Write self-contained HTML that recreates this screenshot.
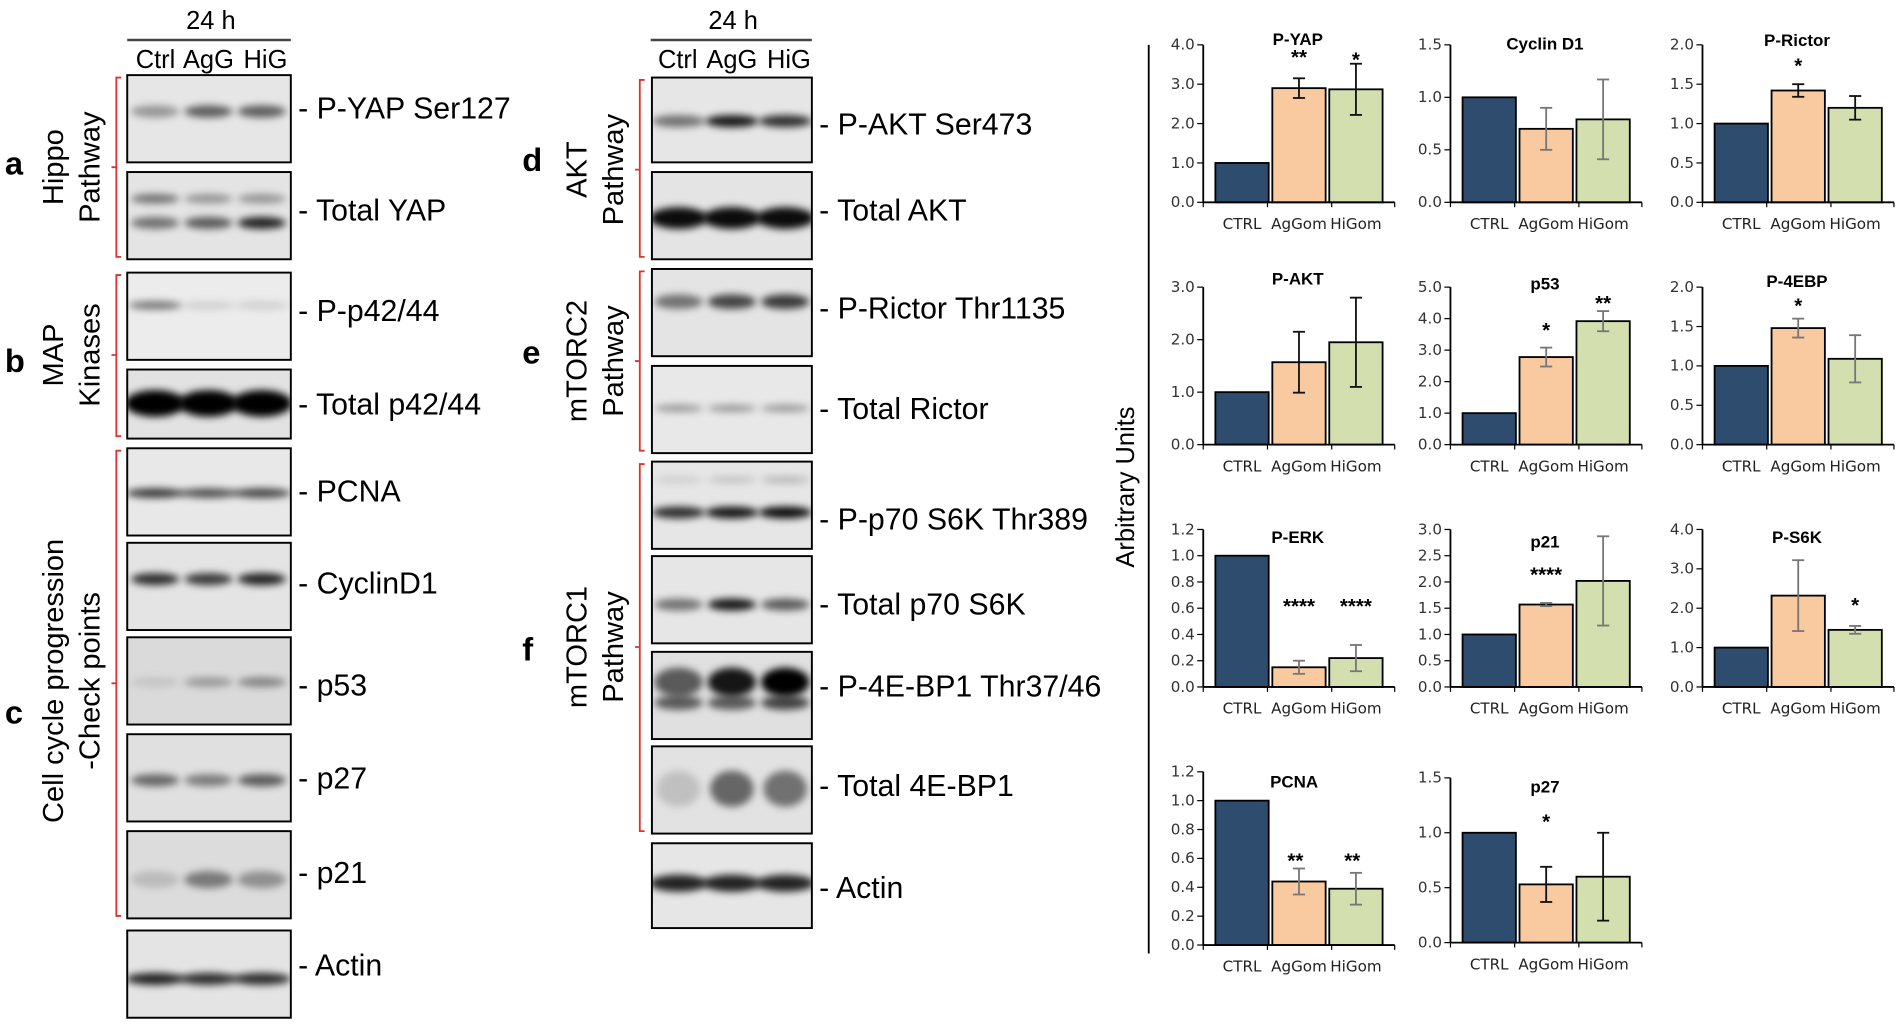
<!DOCTYPE html>
<html><head><meta charset="utf-8"><style>
html,body{margin:0;padding:0;background:#fff;width:1900px;height:1025px;overflow:hidden}
svg{display:block}
.l{font-family:"Liberation Sans",Arial,sans-serif;font-size:25px;fill:#000}
.h{font-family:"Liberation Sans",Arial,sans-serif;font-size:21px;fill:#000}
.r{font-family:"Liberation Sans",Arial,sans-serif;font-size:24px;fill:#000;text-anchor:middle}
.let{font-family:"Liberation Sans",Arial,sans-serif;font-size:27px;font-weight:bold;fill:#000}
.t{font-family:"DejaVu Sans",Verdana,sans-serif;font-size:12.5px;fill:#333;text-anchor:end}
.c{font-family:"DejaVu Sans",Verdana,sans-serif;font-size:12.5px;fill:#222;text-anchor:middle}
.ti{font-family:"Liberation Sans",Arial,sans-serif;font-size:14px;font-weight:bold;fill:#000;text-anchor:middle}
.s{font-family:"Liberation Sans",Arial,sans-serif;font-size:17px;font-weight:bold;fill:#000;text-anchor:middle}
</style></head><body>
<svg id="s" width="1900" height="1025" viewBox="0 0 1568 846" preserveAspectRatio="none">
<defs>
<filter id="b" x="-50%" y="-100%" width="200%" height="300%"><feGaussianBlur stdDeviation="3"/></filter>
</defs>
<g id="blots"></g>
<g id="charts"></g>

<text class="h" x="174" y="24" text-anchor="middle">24 h</text>
<line x1="105" y1="33" x2="240" y2="33" stroke="#444" stroke-width="2"/>
<text class="h" x="112" y="56">Ctrl</text><text class="h" x="151" y="56">AgG</text><text class="h" x="201" y="56">HiG</text>
<text class="h" x="605" y="24" text-anchor="middle">24 h</text>
<line x1="537" y1="33" x2="670" y2="33" stroke="#444" stroke-width="2"/>
<text class="h" x="543" y="56">Ctrl</text><text class="h" x="583" y="56">AgG</text><text class="h" x="633" y="56">HiG</text>

<text class="l" x="246" y="98">- P-YAP Ser127</text>
<text class="l" x="246" y="182">- Total YAP</text>
<text class="l" x="246" y="265">- P-p42/44</text>
<text class="l" x="246" y="342">- Total p42/44</text>
<text class="l" x="246" y="414">- PCNA</text>
<text class="l" x="246" y="490">- CyclinD1</text>
<text class="l" x="246" y="574">- p53</text>
<text class="l" x="246" y="651">- p27</text>
<text class="l" x="246" y="729">- p21</text>
<text class="l" x="246" y="805">- Actin</text>

<text class="l" x="676" y="111">- P-AKT Ser473</text>
<text class="l" x="676" y="182">- Total AKT</text>
<text class="l" x="676" y="263">- P-Rictor Thr1135</text>
<text class="l" x="676" y="346">- Total Rictor</text>
<text class="l" x="676" y="437">- P-p70 S6K Thr389</text>
<text class="l" x="676" y="507">- Total p70 S6K</text>
<text class="l" x="676" y="575">- P-4E-BP1 Thr37/46</text>
<text class="l" x="676" y="657">- Total 4E-BP1</text>
<text class="l" x="676" y="741">- Actin</text>

<g stroke="#d33" stroke-width="1.5" fill="none">
<path d="M100 64 H96 V212 H100 M96 138 H92"/>
<path d="M100 227 H96 V360 H100 M96 293 H92"/>
<path d="M100 372 H96 V756 H100 M96 564 H92"/>
<path d="M532 66 H528 V212 H532 M528 140 H524"/>
<path d="M532 224 H528 V372 H532 M528 298 H524"/>
<path d="M532 383 H528 V686 H532 M528 534 H524"/>
</g>

<g transform="translate(52,138) rotate(-90)"><text class="r" y="0">Hippo</text><text class="r" y="30">Pathway</text></g>
<g transform="translate(52,293) rotate(-90)"><text class="r" y="0">MAP</text><text class="r" y="30">Kinases</text></g>
<g transform="translate(52,562) rotate(-90)"><text class="r" y="0">Cell cycle progression</text><text class="r" y="30">-Check points</text></g>
<g transform="translate(484,140) rotate(-90)"><text class="r" y="0">AKT</text><text class="r" y="30">Pathway</text></g>
<g transform="translate(484,298) rotate(-90)"><text class="r" y="0">mTORC2</text><text class="r" y="30">Pathway</text></g>
<g transform="translate(484,534) rotate(-90)"><text class="r" y="0">mTORC1</text><text class="r" y="30">Pathway</text></g>

<text class="let" x="4" y="144">a</text>
<text class="let" x="4" y="307">b</text>
<text class="let" x="4" y="597">c</text>
<text class="let" x="431" y="141">d</text>
<text class="let" x="431" y="300">e</text>
<text class="let" x="431" y="545">f</text>

<line x1="948" y1="37" x2="948" y2="787" stroke="#000" stroke-width="1.5"/>
<g transform="translate(936,402) rotate(-90)"><text class="r" style="font-size:21px" y="0">Arbitrary Units</text></g>

<g>
<text class="ti" x="1071" y="37">P-YAP</text>
<text class="ti" x="1275" y="41">Cyclin D1</text>
<text class="ti" x="1483" y="38">P-Rictor</text>
<text class="ti" x="1071" y="235">P-AKT</text>
<text class="ti" x="1275" y="239">p53</text>
<text class="ti" x="1483" y="237">P-4EBP</text>
<text class="ti" x="1071" y="448">P-ERK</text>
<text class="ti" x="1275" y="452">p21</text>
<text class="ti" x="1483" y="448">P-S6K</text>
<text class="ti" x="1068" y="650">PCNA</text>
<text class="ti" x="1275" y="654">p27</text>
</g>
<g>
<text class="s" x="1072" y="53">**</text><text class="s" x="1119" y="55">*</text>
<text class="s" x="1484" y="60">*</text>
<text class="s" x="1276" y="278">*</text><text class="s" x="1323" y="256">**</text>
<text class="s" x="1484" y="258">*</text>
<text class="s" x="1072" y="506">****</text><text class="s" x="1119" y="506">****</text>
<text class="s" x="1276" y="480">****</text>
<text class="s" x="1531" y="505">*</text>
<text class="s" x="1069" y="716">**</text><text class="s" x="1116" y="716">**</text>
<text class="s" x="1276" y="684">*</text>
</g>
<g>
<text class="t" x="986" y="41">4.0</text><text class="t" x="986" y="73.5">3.0</text><text class="t" x="986" y="106">2.0</text><text class="t" x="986" y="138.5">1.0</text><text class="t" x="986" y="171">0.0</text>
<text class="t" x="1190" y="41">1.5</text><text class="t" x="1190" y="84.3">1.0</text><text class="t" x="1190" y="127.7">0.5</text><text class="t" x="1190" y="171">0.0</text>
<text class="t" x="1398" y="41">2.0</text><text class="t" x="1398" y="73.5">1.5</text><text class="t" x="1398" y="106">1.0</text><text class="t" x="1398" y="138.5">0.5</text><text class="t" x="1398" y="171">0.0</text>
<text class="t" x="986" y="241">3.0</text><text class="t" x="986" y="284.3">2.0</text><text class="t" x="986" y="327.7">1.0</text><text class="t" x="986" y="371">0.0</text>
<text class="t" x="1190" y="241">5.0</text><text class="t" x="1190" y="267">4.0</text><text class="t" x="1190" y="293">3.0</text><text class="t" x="1190" y="319">2.0</text><text class="t" x="1190" y="345">1.0</text><text class="t" x="1190" y="371">0.0</text>
<text class="t" x="1398" y="241">2.0</text><text class="t" x="1398" y="273.5">1.5</text><text class="t" x="1398" y="306">1.0</text><text class="t" x="1398" y="338.5">0.5</text><text class="t" x="1398" y="371">0.0</text>
<text class="t" x="986" y="441">1.2</text><text class="t" x="986" y="462.7">1.0</text><text class="t" x="986" y="484.3">0.8</text><text class="t" x="986" y="506">0.6</text><text class="t" x="986" y="527.7">0.4</text><text class="t" x="986" y="549.3">0.2</text><text class="t" x="986" y="571">0.0</text>
<text class="t" x="1190" y="441">3.0</text><text class="t" x="1190" y="462.7">2.5</text><text class="t" x="1190" y="484.3">2.0</text><text class="t" x="1190" y="506">1.5</text><text class="t" x="1190" y="527.7">1.0</text><text class="t" x="1190" y="549.3">0.5</text><text class="t" x="1190" y="571">0.0</text>
<text class="t" x="1398" y="441">4.0</text><text class="t" x="1398" y="473.5">3.0</text><text class="t" x="1398" y="506">2.0</text><text class="t" x="1398" y="538.5">1.0</text><text class="t" x="1398" y="571">0.0</text>
<text class="t" x="986" y="641">1.2</text><text class="t" x="986" y="664.8">1.0</text><text class="t" x="986" y="688.7">0.8</text><text class="t" x="986" y="712.5">0.6</text><text class="t" x="986" y="736.3">0.4</text><text class="t" x="986" y="760.2">0.2</text><text class="t" x="986" y="784">0.0</text>
<text class="t" x="1190" y="646">1.5</text><text class="t" x="1190" y="691.3">1.0</text><text class="t" x="1190" y="736.7">0.5</text><text class="t" x="1190" y="782">0.0</text>
</g>
<g>
<text class="c" x="1025" y="189">CTRL</text><text class="c" x="1072" y="189">AgGom</text><text class="c" x="1119" y="189">HiGom</text>
<text class="c" x="1229" y="189">CTRL</text><text class="c" x="1276" y="189">AgGom</text><text class="c" x="1323" y="189">HiGom</text>
<text class="c" x="1437" y="189">CTRL</text><text class="c" x="1484" y="189">AgGom</text><text class="c" x="1531" y="189">HiGom</text>
<text class="c" x="1025" y="389">CTRL</text><text class="c" x="1072" y="389">AgGom</text><text class="c" x="1119" y="389">HiGom</text>
<text class="c" x="1229" y="389">CTRL</text><text class="c" x="1276" y="389">AgGom</text><text class="c" x="1323" y="389">HiGom</text>
<text class="c" x="1437" y="389">CTRL</text><text class="c" x="1484" y="389">AgGom</text><text class="c" x="1531" y="389">HiGom</text>
<text class="c" x="1025" y="589">CTRL</text><text class="c" x="1072" y="589">AgGom</text><text class="c" x="1119" y="589">HiGom</text>
<text class="c" x="1229" y="589">CTRL</text><text class="c" x="1276" y="589">AgGom</text><text class="c" x="1323" y="589">HiGom</text>
<text class="c" x="1437" y="589">CTRL</text><text class="c" x="1484" y="589">AgGom</text><text class="c" x="1531" y="589">HiGom</text>
<text class="c" x="1025" y="802">CTRL</text><text class="c" x="1072" y="802">AgGom</text><text class="c" x="1119" y="802">HiGom</text>
<text class="c" x="1229" y="800">CTRL</text><text class="c" x="1276" y="800">AgGom</text><text class="c" x="1323" y="800">HiGom</text>
</g>
</svg>
<script>
(function(){
var NS="http://www.w3.org/2000/svg";
function el(p,n,a){var e=document.createElementNS(NS,n);for(var k in a)e.setAttribute(k,a[k]);p.appendChild(e);return e;}
var B=document.getElementById('blots');
var L=[128,172,216],M=[560,604,648];
var blots=[
[105,62,135,72,'#e6e6e6',L,[[30,[.35,.6,.6],5,20]]],
[105,142,135,72,'#e4e4e4',L,[[22,[.5,.35,.35],4,20],[42,[.5,.6,.85],5,20]]],
[105,225,135,72,'#ececec',L,[[27,[.5,.12,.12],3.5,22]]],
[105,305,135,57,'#e2e2e2',L,[[28,[1,1,1],11,25]]],
[105,370,135,72,'#e8e8e8',L,[[37,[.75,.65,.7],4,24]]],
[105,448,135,72,'#e4e4e4',L,[[30,[.8,.75,.85],5,20]]],
[105,526,135,72,'#dadada',L,[[37,[.1,.3,.4],4,20]]],
[105,606,135,72,'#e0e0e0',L,[[38,[.55,.45,.6],5,20]]],
[105,686,135,72,'#dcdcdc',L,[[40,[.15,.45,.35],7,20]]],
[105,768,135,72,'#e4e4e4',L,[[40,[.85,.8,.8],5,24]]],
[538,64,132,70,'#e6e6e6',M,[[36,[.5,.9,.8],5,22]]],
[538,142,132,72,'#e4e4e4',M,[[38,[.95,.95,.95],9,24]]],
[538,222,132,72,'#e4e4e4',M,[[27,[.5,.7,.75],6,20]]],
[538,302,132,72,'#e8e8e8',M,[[35,[.35,.35,.35],3,20]]],
[538,381,132,72,'#e6e6e6',M,[[15,[.1,.15,.2],3,20],[42,[.8,.9,.95],5,22]]],
[538,459,132,72,'#e6e6e6',M,[[40,[.5,.9,.6],5,20]]],
[538,538,132,72,'#e0e0e0',M,[[25,[.6,.9,1],12,20],[42,[.6,.6,.7],6,20]]],
[538,616,132,72,'#e2e2e2',M,[[35,[.15,.55,.5],15,18]]],
[538,696,132,70,'#e6e6e6',M,[[33,[.85,.85,.85],7,24]]]
];
blots.forEach(function(b,i){
  var cid='c'+i;var cp=el(B,'clipPath',{id:cid});el(cp,'rect',{x:b[0],y:b[1],width:b[2],height:b[3]});
  el(B,'rect',{x:b[0],y:b[1],width:b[2],height:b[3],fill:b[4]});
  var g=el(B,'g',{'clip-path':'url(#'+cid+')'});
  b[6].forEach(function(bd){b[5].forEach(function(cx,j){
    el(g,'ellipse',{cx:cx,cy:b[1]+bd[0],rx:bd[3],ry:bd[2],fill:'#000','fill-opacity':bd[1][j],filter:'url(#b)'});
  });});
  el(B,'rect',{x:b[0],y:b[1],width:b[2],height:b[3],fill:'none',stroke:'#000','stroke-width':1.6});
});
var C=document.getElementById('charts');
var cols=['#2e4d6e','#f9c9a0','#d3dfae'];
var charts=[
[993,37,167,4,4,[1,2.9,2.87],[0,.25,.65],'#111'],
[1197,37,167,1.5,3,[1,.7,.79],[0,.2,.38],'#777'],
[1405,37,167,2,4,[1,1.42,1.2],[0,.08,.15],'#111'],
[993,237,367,3,3,[1,1.57,1.95],[0,.58,.85],'#111'],
[1197,237,367,5,5,[1,2.78,3.92],[0,.3,.32],'#777'],
[1405,237,367,2,4,[1,1.48,1.09],[0,.12,.3],'#777'],
[993,437,567,1.2,6,[1,.15,.22],[0,.05,.1],'#777'],
[1197,437,567,3,6,[1,1.57,2.02],[0,.03,.85],'#777'],
[1405,437,567,4,4,[1,2.32,1.45],[0,.9,.1],'#777'],
[993,637,780,1.2,6,[1,.44,.39],[0,.09,.11],'#777'],
[1197,642,778,1.5,3,[1,.53,.6],[0,.16,.4],'#111']
];
charts.forEach(function(c){
  var x=c[0],yt=c[1],yb=c[2],mx=c[3],n=c[4],h=yb-yt;
  function Y(v){return yb-v/mx*h;}
  for(var i=0;i<=n;i++){var y=yt+h*i/n;el(C,'line',{x1:x-5,y1:y,x2:x,y2:y,stroke:'#000','stroke-width':1});}
  for(var j=0;j<3;j++){
    var bx=x+10+j*47;
    el(C,'rect',{x:bx,y:Y(c[5][j]),width:44,height:yb-Y(c[5][j]),fill:cols[j],stroke:'#000','stroke-width':1.5});
    if(c[6][j]>0){var cx=bx+22,y1=Y(c[5][j]+c[6][j]),y2=Y(c[5][j]-c[6][j]);
      el(C,'line',{x1:cx,y1:y1,x2:cx,y2:y2,stroke:c[7],'stroke-width':1.5});
      el(C,'line',{x1:cx-5,y1:y1,x2:cx+5,y2:y1,stroke:c[7],'stroke-width':1.5});
      el(C,'line',{x1:cx-5,y1:y2,x2:cx+5,y2:y2,stroke:c[7],'stroke-width':1.5});}
  }
  el(C,'line',{x1:x,y1:yt,x2:x,y2:yb,stroke:'#000','stroke-width':1.5});
  el(C,'line',{x1:x,y1:yb,x2:x+158,y2:yb,stroke:'#000','stroke-width':1.5});
  [0,53,106,158].forEach(function(d){el(C,'line',{x1:x+d,y1:yb,x2:x+d,y2:yb+4,stroke:'#000','stroke-width':1});});
});
})();
</script>
</body></html>
